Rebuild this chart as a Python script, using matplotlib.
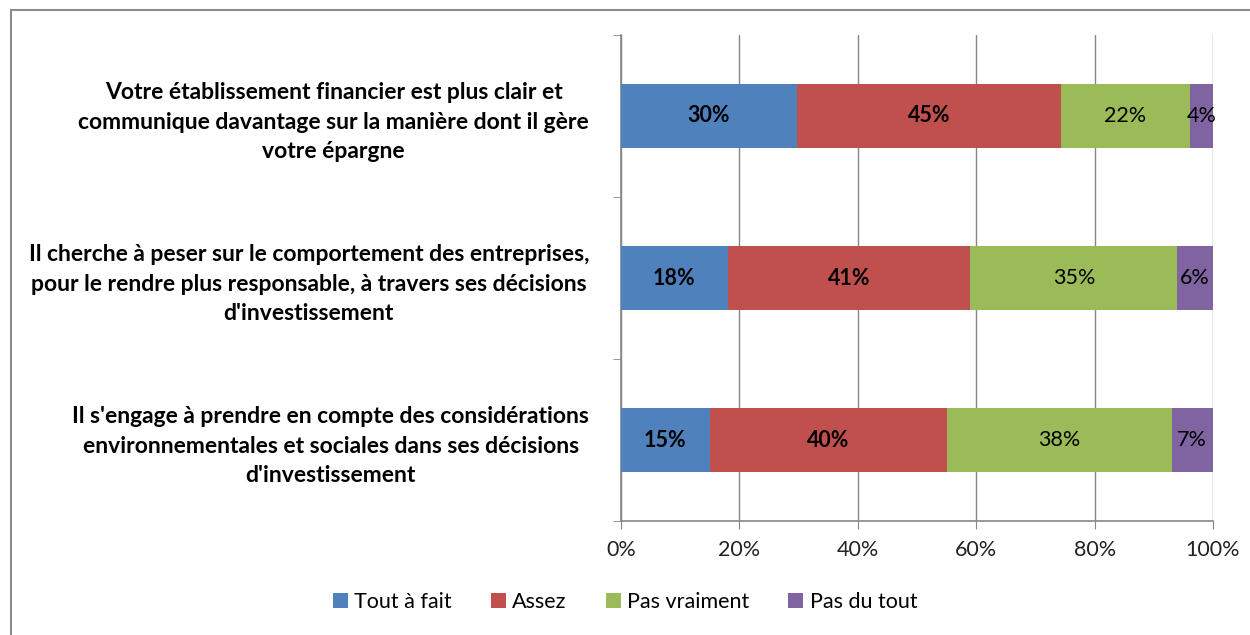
import numpy as np
import matplotlib
matplotlib.use("Agg")
import matplotlib.pyplot as plt
from matplotlib.patches import Rectangle

plt.rcParams["font.family"] = ["Lato", "DejaVu Sans"]

categories = [
    "Votre établissement financier est plus clair et\ncommunique davantage sur la manière dont il gère\nvotre épargne",
    "Il cherche à peser sur le comportement des entreprises,\npour le rendre plus responsable, à travers ses décisions\nd'investissement",
    "Il s'engage à prendre en compte des considérations\nenvironnementales et sociales dans ses décisions\nd'investissement",
]
series_names = ["Tout à fait", "Assez", "Pas vraiment", "Pas du tout"]
tout_a_fait = [30, 18, 15]
assez = [45, 41, 40]
pas_vraiment = [22, 35, 38]
pas_du_tout = [4, 6, 7]
colors = ["#4F81BD", "#C0504D", "#9BBB59", "#8064A2"]
label_bold = [True, True, False, False]

fig = plt.figure(figsize=(12.5, 6.35), dpi=100)
ax = fig.add_axes([0.4968, 0.1795, 0.4736, 0.7654])

# outer chart border (only left/top visible in the reference)
fig.patches.append(Rectangle((11 / 1250, -0.1), 1.2, 1 - 10 / 635 + 0.1,
                             transform=fig.transFigure, fill=False,
                             edgecolor="#8C8C8C", linewidth=1.5))

data = np.array([tout_a_fait, assez, pas_vraiment, pas_du_tout], dtype=float)
# 100% stacked: each row scaled to its total, labels keep the raw values
shares = data / data.sum(axis=0) * 100

y = np.arange(len(categories))
left = np.zeros(len(categories))
for raw, vals, name, c, bold in zip(data, shares, series_names, colors, label_bold):
    ax.barh(y, vals, left=left, height=0.4, color=c, label=name, zorder=3)
    for yi, l, v, r in zip(y, left, vals, raw):
        ax.text(l + v / 2, yi, "{:.0f}%".format(r), ha="center", va="center",
                fontsize=15.5, fontweight="bold" if bold else "normal",
                color="black", zorder=4)
    left += vals

ax.set_xlim(0, 100)
ax.set_ylim(2.5, -0.5)
ax.set_xticks(np.arange(0, 101, 20))
ax.set_xticklabels(["{}%".format(t) for t in range(0, 101, 20)], fontsize=15.5)
ax.tick_params(axis="x", length=6, color="#868686", pad=8, labelcolor="#222222")
ax.xaxis.grid(True, color="#868686", linewidth=1, zorder=0)

ax.set_yticks(y)
ax.set_yticklabels(categories, fontsize=16.5, fontweight="bold",
                   multialignment="center", linespacing=1.5)
ax.set_yticks([-0.5, 0.5, 1.5, 2.5], minor=True)
ax.tick_params(axis="y", which="major", length=0, pad=23)
ax.tick_params(axis="y", which="minor", length=6, color="#868686")

for s in ["top", "right"]:
    ax.spines[s].set_visible(False)
for s in ["left", "bottom"]:
    ax.spines[s].set_color("#868686")
    ax.spines[s].set_linewidth(1.2)

fig.legend(loc="center", bbox_to_anchor=(0.5, 1 - 602 / 635), ncol=4,
           frameon=False, fontsize=15.5, handlelength=0.7, handleheight=0.7,
           handletextpad=0.3, columnspacing=1.8)

fig.savefig("out.png", dpi=100)
